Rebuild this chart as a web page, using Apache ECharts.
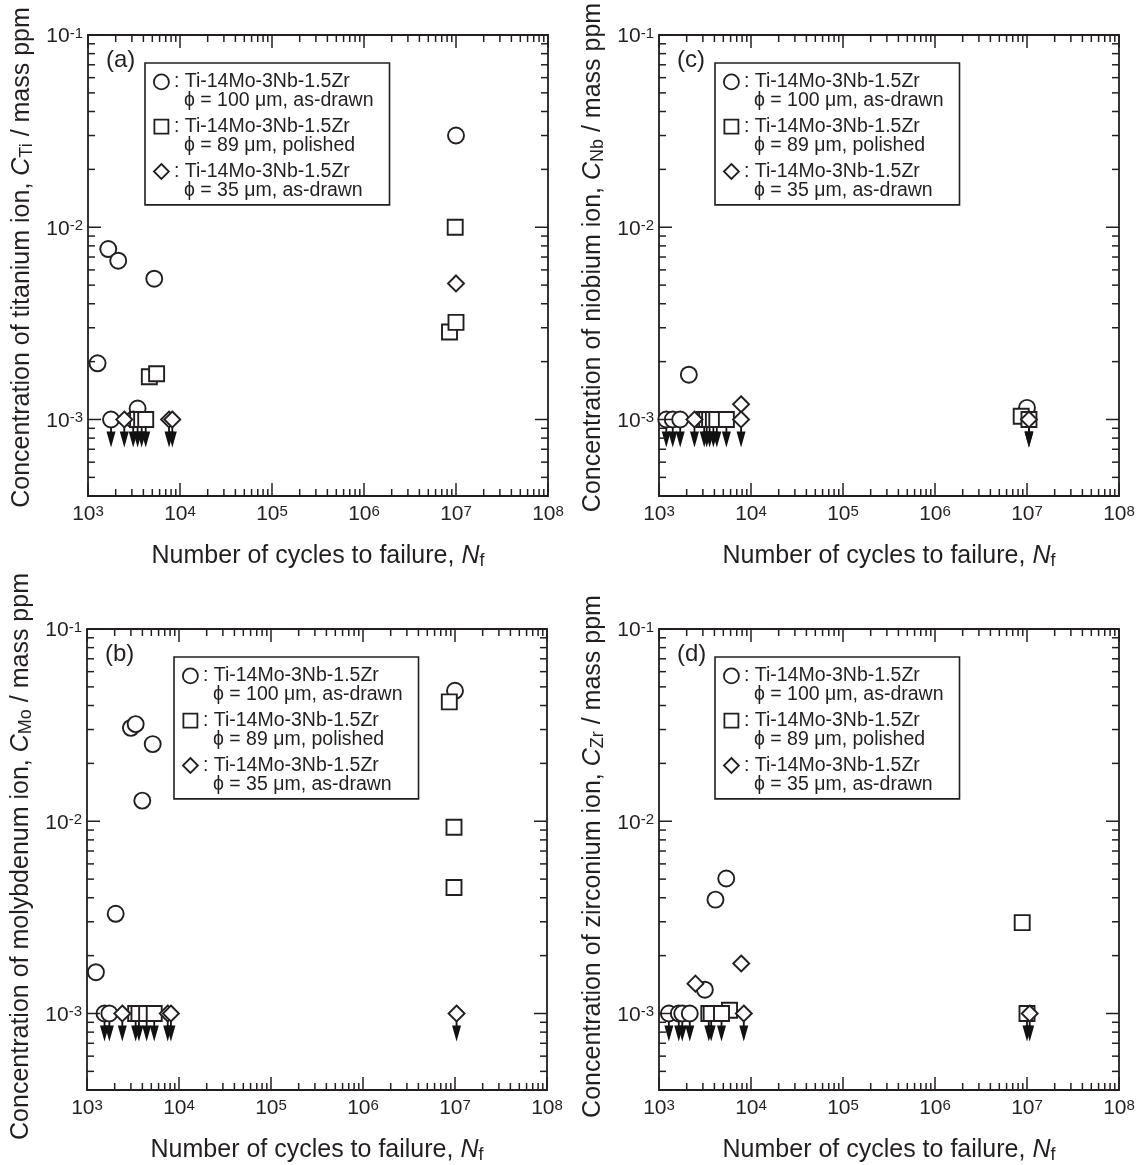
<!DOCTYPE html>
<html>
<head>
<meta charset="utf-8">
<title>Ion release vs cycles to failure</title>
<script src="https://cdn.jsdelivr.net/npm/echarts@6/dist/echarts.min.js"></script>
<style>
  html, body { margin: 0; padding: 0; background: #fff; }
  #chart { width: 1142px; height: 1165px; }
</style>
</head>
<body>
<div id="chart"></div>
<script>
const INK = '#231f20'
const FONT = '"Liberation Sans", Arial, Helvetica, sans-serif'

// axis ranges and tick values
const X_MIN = 1e3
const X_MAX = 1e8
const Y_MIN = 4e-4
const Y_MAX = 1e-1
const xMajor = [1e3, 1e4, 1e5, 1e6, 1e7, 1e8]
const xMinorDecades = [1e3, 1e4, 1e5, 1e6, 1e7]
const yMajor = [1e-3, 1e-2, 1e-1]
const yMinorDecades = [1e-4, 1e-3, 1e-2]
const minorSteps = [2, 3, 4, 5, 6, 7, 8, 9]

// legend entries (same three specimens in every panel)
const seriesNames = ['d100', 'd89', 'd35']
const legendText = [
  [': Ti-14Mo-3Nb-1.5Zr', 'ϕ = 100 μm, as-drawn'],
  [': Ti-14Mo-3Nb-1.5Zr', 'ϕ = 89 μm, polished'],
  [': Ti-14Mo-3Nb-1.5Zr', 'ϕ = 35 μm, as-drawn']
]

// [cycles to failure, concentration / mass ppm]
// *ND = below detection limit, plotted at 1e-3 with a down arrow
// (a) titanium
const tiCircle = [[1.27e3, 1.96e-3], [1.66e3, 7.7e-3], [2.13e3, 6.7e-3], [3.46e3, 1.14e-3], [5.25e3, 5.4e-3], [1.0e7, 3.0e-2]]
const tiCircleND = [[1.78e3, 1e-3], [3.1e3, 1e-3]]
const tiSquare = [[4.64e3, 1.67e-3], [5.57e3, 1.73e-3], [8.5e6, 2.85e-3], [1.0e7, 3.2e-3], [9.8e6, 1.0e-2]]
const tiSquareND = [[3.46e3, 1e-3], [3.83e3, 1e-3], [4.24e3, 1e-3]]
const tiDiamond = [[1.0e7, 5.1e-3]]
const tiDiamondND = [[2.48e3, 1e-3], [7.6e3, 1e-3], [8.25e3, 1e-3]]
// (c) niobium
const nbCircle = [[2.11e3, 1.71e-3], [1.0e7, 1.15e-3]]
const nbCircleND = [[1.2e3, 1e-3], [1.41e3, 1e-3], [1.7e3, 1e-3]]
const nbSquare = [[8.65e6, 1.04e-3]]
const nbSquareND = [[3.1e3, 1e-3], [3.3e3, 1e-3], [3.55e3, 1e-3], [3.9e3, 1e-3], [4.25e3, 1e-3], [5.4e3, 1e-3], [1.05e7, 1e-3]]
const nbDiamond = [[7.8e3, 1.2e-3]]
const nbDiamondND = [[2.43e3, 1e-3], [7.8e3, 1e-3], [1.05e7, 1e-3]]
// (b) molybdenum
const moCircle = [[1.25e3, 1.64e-3], [2.05e3, 3.3e-3], [3.0e3, 3.06e-2], [3.38e3, 3.2e-2], [3.99e3, 1.28e-2], [5.18e3, 2.52e-2], [1.0e7, 4.77e-2]]
const moCircleND = [[1.55e3, 1e-3], [1.75e3, 1e-3]]
const moSquare = [[8.67e6, 4.18e-2], [9.75e6, 9.3e-3], [9.75e6, 4.52e-3]]
const moSquareND = [[3.38e3, 1e-3], [3.67e3, 1e-3], [4.45e3, 1e-3], [5.38e3, 1e-3]]
const moDiamond = []
const moDiamondND = [[2.42e3, 1e-3], [7.54e3, 1e-3], [8.17e3, 1e-3], [1.04e7, 1e-3]]
// (d) zirconium
const zrCircle = [[3.15e3, 1.33e-3], [4.11e3, 3.91e-3], [5.38e3, 5.04e-3]]
const zrCircleND = [[1.28e3, 1e-3], [1.64e3, 1e-3], [1.79e3, 1e-3], [2.16e3, 1e-3]]
const zrSquare = [[5.84e3, 1.04e-3], [8.87e6, 2.97e-3]]
const zrSquareND = [[3.48e3, 1e-3], [3.69e3, 1e-3], [4.78e3, 1e-3], [1.0e7, 1e-3]]
const zrDiamond = [[2.49e3, 1.43e-3], [7.83e3, 1.82e-3]]
const zrDiamondND = [[8.35e3, 1e-3], [1.07e7, 1e-3]]

const panels = [
  { tag: '(a)', ion: 'titanium', el: 'Ti', left: 88, top: 35, legend: [145, 63], nameShift: 16,
    data: [tiCircle, tiSquare, tiDiamond], nd: [tiCircleND, tiSquareND, tiDiamondND] },
  { tag: '(c)', ion: 'niobium', el: 'Nb', left: 659, top: 35, legend: [715, 63], nameShift: 16,
    data: [nbCircle, nbSquare, nbDiamond], nd: [nbCircleND, nbSquareND, nbDiamondND] },
  { tag: '(b)', ion: 'molybdenum', el: 'Mo', left: 87, top: 629, legend: [174, 657], nameShift: 6,
    data: [moCircle, moSquare, moDiamond], nd: [moCircleND, moSquareND, moDiamondND] },
  { tag: '(d)', ion: 'zirconium', el: 'Zr', left: 659, top: 629, legend: [715, 657], nameShift: 6,
    data: [zrCircle, zrSquare, zrDiamond], nd: [zrCircleND, zrSquareND, zrDiamondND] }
]

const shapes = ['circle', 'rect', 'diamond']
// legend icons sit on the first text line: anchors M0,0 / M15,38 fix the box
const legendIcons = [
  'path://M0,0M15,38M7.5,2A7.5,7.5,0,1,1,7.5,17A7.5,7.5,0,1,1,7.5,2Z',
  'path://M0,0M15,38M0.5,2.5L14.5,2.5L14.5,16.5L0.5,16.5Z',
  'path://M0,0M15,38M7.5,2L15,9.5L7.5,17L0,9.5Z'
]
const ARROW = 'path://M3.6,0L5.4,0L5.4,12L9,12L4.5,28L0,12L3.6,12Z'

const labelRich = {
  b: { fontFamily: FONT, fontSize: 21, lineHeight: 21, verticalAlign: 'bottom', color: INK },
  s: { fontFamily: FONT, fontSize: 15, lineHeight: 15, padding: [0, 0, 13, 0], verticalAlign: 'top', color: INK }
}
const nameRich = {
  t: { fontFamily: FONT, fontSize: 25, lineHeight: 25, verticalAlign: 'top', color: INK },
  i: { fontFamily: FONT, fontSize: 25, lineHeight: 25, verticalAlign: 'top', fontStyle: 'italic', color: INK },
  s: { fontFamily: FONT, fontSize: 18, lineHeight: 18, padding: [8, 0, 0, 0], verticalAlign: 'top', color: INK }
}

function powLabel (v) {
  const e = Math.log10(v)
  if (Math.abs(e - Math.round(e)) > 1e-6) return ''
  return '{b|10}{s|' + Math.round(e) + '}'
}

// tick items: [x, y, 0 = x-axis tick / 1 = y-axis tick, major]
const tickItems = []
xMajor.forEach(v => tickItems.push([v, Y_MIN, 0, 1]))
xMinorDecades.forEach(d => minorSteps.forEach(k => tickItems.push([k * d, Y_MIN, 0, 0])))
yMajor.forEach(v => tickItems.push([X_MIN, v, 1, 1]))
yMinorDecades.forEach(d => minorSteps.forEach(k => {
  const v = k * d
  if (v >= Y_MIN * 0.999 && v <= Y_MAX) tickItems.push([X_MIN, v, 1, 0])
}))

function renderTick (params, api) {
  const len = api.value(3) ? 13 : 7
  const style = { stroke: INK, lineWidth: 1.5 }
  if (api.value(2) === 0) {
    const lo = api.coord([api.value(0), Y_MIN])
    const hi = api.coord([api.value(0), Y_MAX])
    return { type: 'group', children: [
      { type: 'line', shape: { x1: lo[0], y1: lo[1], x2: lo[0], y2: lo[1] - len }, style },
      { type: 'line', shape: { x1: hi[0], y1: hi[1], x2: hi[0], y2: hi[1] + len }, style }
    ] }
  }
  const l = api.coord([X_MIN, api.value(1)])
  const r = api.coord([X_MAX, api.value(1)])
  return { type: 'group', children: [
    { type: 'line', shape: { x1: l[0], y1: l[1], x2: l[0] + len, y2: l[1] }, style },
    { type: 'line', shape: { x1: r[0], y1: r[1], x2: r[0] - len, y2: r[1] }, style }
  ] }
}

const option = {
  animation: false,
  backgroundColor: '#fff',
  title: [], grid: [], xAxis: [], yAxis: [], legend: [], series: []
}

panels.forEach((p, i) => {
  option.grid.push({
    left: p.left, top: p.top, width: 460, height: 461,
    show: true, borderColor: INK, borderWidth: 1.8, backgroundColor: 'transparent'
  })
  option.title.push({
    text: p.tag, left: p.left + 18, top: p.top + 13, padding: 0,
    textStyle: { fontFamily: FONT, fontSize: 24, fontWeight: 'normal', color: INK }
  })
  option.xAxis.push({
    gridIndex: i, type: 'log', logBase: 10, min: X_MIN, max: X_MAX,
    axisLine: { show: false }, axisTick: { show: false }, splitLine: { show: false },
    axisLabel: { formatter: powLabel, margin: 8, rich: labelRich },
    name: '{t|Number of cycles to failure, }{i|N}{s|f}',
    nameLocation: 'middle', nameGap: 48,
    nameTextStyle: { fontFamily: FONT, color: INK, rich: nameRich }
  })
  option.yAxis.push({
    gridIndex: i, type: 'log', logBase: 10, min: Y_MIN, max: Y_MAX,
    axisLine: { show: false }, axisTick: { show: false }, splitLine: { show: false },
    axisLabel: { formatter: powLabel, margin: 5, padding: [3, 0, 0, 0], rich: labelRich },
    name: '{t|Concentration of ' + p.ion + ' ion, }{i|C}{s|' + p.el + '}{t| / mass ppm}',
    nameLocation: 'middle', nameRotate: 90, nameGap: 53,
    nameTextStyle: { fontFamily: FONT, color: INK, padding: [0, 0, 0, p.nameShift], rich: nameRich }
  })
  option.legend.push({
    left: p.legend[0], top: p.legend[1], orient: 'vertical', selectedMode: false,
    data: seriesNames.map((n, k) => ({ name: n, icon: legendIcons[k] })),
    itemWidth: 15, itemHeight: 38, itemGap: 5,
    padding: [8.5, 16, 4, 8],
    borderColor: INK, borderWidth: 1.6, backgroundColor: '#fff',
    itemStyle: { color: '#fff', borderColor: INK, borderWidth: 1.8 },
    formatter: name => {
      const t = legendText[seriesNames.indexOf(name)]
      return '{a|' + t[0] + '}\n{b|' + t[1] + '}'
    },
    textStyle: {
      fontFamily: FONT, fontSize: 19.5, color: INK,
      rich: {
        a: { fontFamily: FONT, fontSize: 19.5, lineHeight: 19, color: INK },
        b: { fontFamily: FONT, fontSize: 19.5, lineHeight: 19, padding: [0, 0, 0, 10], color: INK }
      }
    }
  })
  option.series.push({
    type: 'custom', name: 'ticks', xAxisIndex: i, yAxisIndex: i, silent: true, z: 5,
    data: tickItems, renderItem: renderTick
  })
  option.series.push({
    type: 'scatter', name: 'limit', xAxisIndex: i, yAxisIndex: i, silent: true, z: 2,
    symbol: ARROW, symbolSize: [9, 28], symbolOffset: [0, 14],
    itemStyle: { color: '#111', opacity: 1 },
    data: [].concat(...p.nd)
  })
  shapes.forEach((shape, k) => {
    option.series.push({
      type: 'scatter', name: seriesNames[k], xAxisIndex: i, yAxisIndex: i, silent: true, z: 3,
      symbol: shape, symbolSize: shape === 'rect' ? 15 : 16,
      itemStyle: { color: '#fff', borderColor: INK, borderWidth: 1.9, opacity: 1 },
      data: p.data[k].concat(p.nd[k])
    })
  })
})

const chart = echarts.init(document.getElementById('chart'))
chart.setOption(option)
window.addEventListener('resize', () => chart.resize())
</script>
</body>
</html>
